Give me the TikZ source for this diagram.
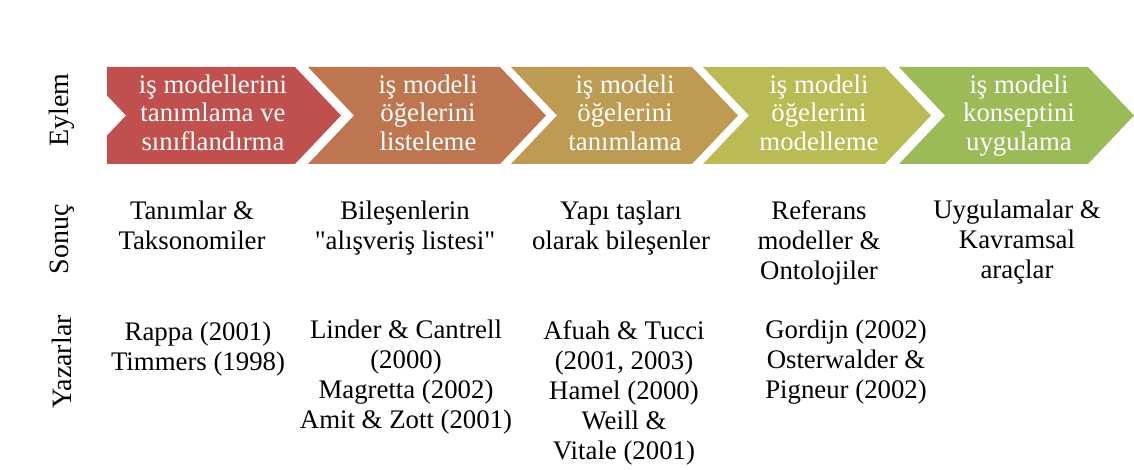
\documentclass[tikz,border=0pt]{standalone}
\usepackage{fontspec}
\setmainfont{Liberation Serif}[Ligatures=TeXOff]
\definecolor{stageA}{HTML}{C0504D}
\definecolor{stageB}{HTML}{BE7650}
\definecolor{stageC}{HTML}{BD9B53}
\definecolor{stageD}{HTML}{BBBB56}
\definecolor{stageE}{HTML}{9BBB59}
% invisible struts fixing the height and depth of every text line
\newcommand\chevstrut{\vrule height 19.95pt depth 8.55pt width 0pt}
\newcommand\notestrut{\vrule height 21pt depth 9pt width 0pt}
% chevron: left x, right x of the flat top, fill colour
\newcommand\chevronshape[3]{%
  \fill[#3] (#1,67) -- (#2,67) -- (#2+46,115.5) -- (#2,164) -- (#1,164) -- (#1+46,115.5) -- cycle;}
\begin{document}
\begin{tikzpicture}[x=1pt,y=-1pt,
  stage/.style={align=center,inner sep=0pt,anchor=north,text=white,
    font=\fontsize{26.8}{28.5}\selectfont,
    execute at begin node=\chevstrut,execute at end node=\chevstrut},
  note/.style={align=center,inner sep=0pt,anchor=north,
    font=\fontsize{26.8}{30}\selectfont,
    execute at begin node=\notestrut,execute at end node=\notestrut},
  rowlabel/.style={rotate=90,inner sep=0pt,fill=white,
    font=\fontsize{28}{30}\selectfont},
]
\useasboundingbox (0,0) rectangle (1134,470);

% process chevrons
\chevronshape{80}{295}{stageA}
\chevronshape{308}{500}{stageB}
\chevronshape{511}{692}{stageC}
\chevronshape{703}{885}{stageD}
\chevronshape{899}{1088}{stageE}

\node[stage] (s1) at (213,74.5) {iş modellerini\\tanımlama ve\\sınıflandırma};
\node[stage] (s2) at (428,74.5) {iş modeli\\öğelerini\\listeleme};
\node[stage] (s3) at (625,74.5) {iş modeli\\öğelerini\\tanımlama};
\node[stage] (s4) at (819,74.5) {iş modeli\\öğelerini\\modelleme};
\node[stage] (s5) at (1019,74.5) {iş modeli\\konseptini\\uygulama};

% row headings
\node[rowlabel,minimum width=110,minimum height=90] (eylem) at (62,110) {Eylem};
\node[rowlabel] (sonuc) at (62,239) {Sonuç};
\node[rowlabel] (yazarlar) at (62,362) {Yazarlar};

% results
\node[note] (r1) at (192,201) {Tanımlar \&\\Taksonomiler};
\node[note] (r2) at (405,201) {Bileşenlerin\\"alışveriş listesi"};
\node[note] (r3) at (621,201) {Yapı taşları\\olarak bileşenler};
\node[note] (r4) at (819,200) {Referans\\modeller \&\\Ontolojiler};
\node[note] (r5) at (1017,200) {Uygulamalar \&\\Kavramsal\\araçlar};

% authors
\node[note] (a1) at (198,322) {Rappa (2001)\\Timmers (1998)};
\node[note] (a2) at (406,320) {Linder \& Cantrell\\(2000)\\Magretta (2002)\\Amit \& Zott (2001)};
\node[note] (a3) at (624,320) {Afuah \& Tucci\\(2001, 2003)\\Hamel (2000)\\Weill \&\\Vitale (2001)};
\node[note] (a4) at (846,320) {Gordijn (2002)\\Osterwalder \&\\Pigneur (2002)};
\end{tikzpicture}
\end{document}
